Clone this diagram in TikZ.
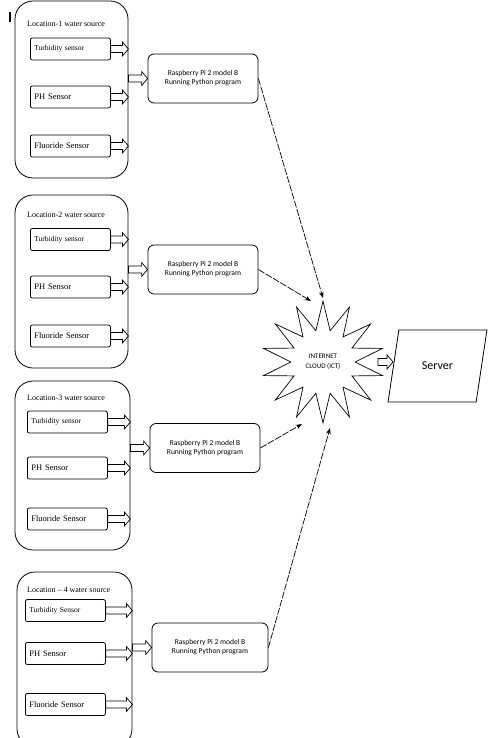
\documentclass[tikz,border=0pt]{standalone}
\usepackage{fontspec}
\setmainfont{Liberation Serif}
\newfontfamily\calibri{Carlito}
\usetikzlibrary{arrows.meta,shapes.geometric,calc}
\tikzset{
  >=Stealth,
}
\tikzstyle{location}=[draw,line width=.8pt,rounded corners=18pt]
\tikzstyle{title}=[anchor=west,inner sep=0pt,font=\fontsize{8}{9}\selectfont]
\tikzstyle{sensor}=[draw,line width=.8pt,rounded corners=2pt,anchor=west,minimum height=22pt,text width=72pt,inner xsep=4pt,align=left,font=\fontsize{8.5}{9}\selectfont]
\tikzstyle{small}=[font=\fontsize{7.5}{9}\selectfont]
\tikzstyle{rpi}=[draw,line width=.8pt,rounded corners=6pt,minimum width=110pt,minimum height=49pt,align=center,font=\calibri\fontsize{7.5}{9}\selectfont]
\tikzstyle{link}=[line width=.7pt,dash pattern=on 7pt off 1.5pt,->]
% outlined block arrow between two points
\newcommand\hollowarrow[2]{%
  \draw[line width=.7pt] ($(#1)+(0,3.5)$)--($(#2)+(-6,3.5)$)--($(#2)+(-6,7)$)--(#2)
    --($(#2)+(-6,-7)$)--($(#2)+(-6,-3.5)$)--($(#1)+(0,-3.5)$)--cycle;}

\begin{document}
\begin{tikzpicture}[x=1pt,y=-1pt]
    \useasboundingbox (0,0) rectangle (488,738);
    \draw[line width=2pt] (10,12)--(10,22);
    % location 1
    \node[location,minimum width=113pt,minimum height=177pt] (loc1) at (71.5,89.5) {};
    \node[title] (title1) at (27,24) {Location-1 water source};
    \node[sensor,small] (turb1) at (30,49) {Turbidity sensor};
    \node[sensor] (ph1) at (30,97) {PH Sensor};
    \node[sensor] (flu1) at (30,146) {Fluoride Sensor};
    \node[rpi] (rpi1) at (203,78.5) {Raspberry Pi 2 model B\\Running Python program};
    \hollowarrow{turb1.east}{turb1.east -| loc1.east}
    \hollowarrow{ph1.east}{ph1.east -| loc1.east}
    \hollowarrow{flu1.east}{flu1.east -| loc1.east}
    \hollowarrow{loc1.east |- rpi1.west}{rpi1.west}
    % location 2
    \node[location,minimum width=113pt,minimum height=173pt] (loc2) at (71.5,281.5) {};
    \node[title] (title2) at (27,215) {Location-2 water source};
    \node[sensor,small] (turb2) at (30,239.5) {Turbidity sensor};
    \node[sensor] (ph2) at (30,287) {PH Sensor};
    \node[sensor] (flu2) at (30,336) {Fluoride Sensor};
    \node[rpi] (rpi2) at (203,269.5) {Raspberry Pi 2 model B\\Running Python program};
    \hollowarrow{turb2.east}{turb2.east -| loc2.east}
    \hollowarrow{ph2.east}{ph2.east -| loc2.east}
    \hollowarrow{flu2.east}{flu2.east -| loc2.east}
    \hollowarrow{loc2.east |- rpi2.west}{rpi2.west}
    % location 3
    \node[location,minimum width=115pt,minimum height=169pt] (loc3) at (72.5,465.5) {};
    \node[title] (title3) at (27,398) {Location-3 water source};
    \node[sensor,small] (turb3) at (27,422) {Turbidity sensor};
    \node[sensor] (ph3) at (27,468) {PH Sensor};
    \node[sensor] (flu3) at (27,519) {Fluoride Sensor};
    \node[rpi] (rpi3) at (205,448) {Raspberry Pi 2 model B\\Running Python program};
    \hollowarrow{turb3.east}{turb3.east -| loc3.east}
    \hollowarrow{ph3.east}{ph3.east -| loc3.east}
    \hollowarrow{flu3.east}{flu3.east -| loc3.east}
    \hollowarrow{loc3.east |- rpi3.west}{rpi3.west}
    % location 4
    \node[location,minimum width=115pt,minimum height=175pt] (loc4) at (74.5,659.5) {};
    \node[title] (title4) at (27,590) {Location -- 4 water source};
    \node[sensor,small] (turb4) at (25,610.5) {Turbidity Sensor};
    \node[sensor] (ph4) at (25,653.5) {PH Sensor};
    \node[sensor] (flu4) at (25,704.5) {Fluoride Sensor};
    \node[rpi,minimum width=116pt] (rpi4) at (210,647.5) {Raspberry Pi 2 model B\\Running Python program};
    \hollowarrow{turb4.east}{turb4.east -| loc4.east}
    \hollowarrow{ph4.east}{ph4.east -| loc4.east}
    \hollowarrow{flu4.east}{flu4.east -| loc4.east}
    \hollowarrow{loc4.east |- rpi4.west}{rpi4.west}
    % cloud and server
    \node[star,star points=14,star point ratio=1.9,draw,line width=.7pt,minimum size=122pt,align=center,font=\calibri\fontsize{7}{10}\selectfont] (cloud) at (323,362) {INTERNET\\CLOUD (ICT)};
    \node[trapezium,trapezium left angle=70,trapezium right angle=110,trapezium stretches=true,draw,line width=.8pt,minimum width=99pt,minimum height=72pt,font=\calibri\fontsize{12}{14}\selectfont] (server) at (437.5,366) {Server};
    \coordinate (cloudout) at (378,362);
    \hollowarrow{cloudout}{cloudout -| server.west}
    \coordinate (in1) at (323,298);
    \coordinate (in2) at (311,301);
    \coordinate (in3) at (302,424);
    \coordinate (in4) at (330,428);
    \draw[link] (rpi1.east)--(in1);
    \draw[link] (rpi2.east)--(in2);
    \draw[link] (rpi3.east)--(in3);
    \draw[link] (rpi4.east)--(in4);
  \end{tikzpicture}
\end{document}
